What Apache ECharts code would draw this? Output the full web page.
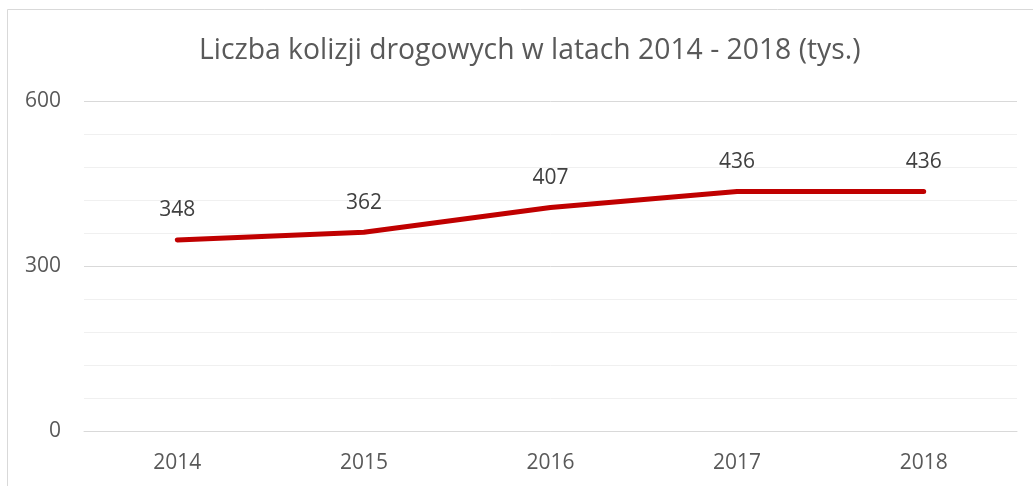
<!DOCTYPE html>
<html><head><meta charset="utf-8">
<script src="https://cdn.jsdelivr.net/npm/echarts@6/dist/echarts.min.js"></script>
<style>html,body{margin:0;padding:0;background:#fff}#c{width:1033px;height:486px}</style>
</head><body><div id="c"></div>
<script>
var titleText = 'Liczba kolizji drogowych w latach 2014 - 2018 (tys.)';
var years = ['2014', '2015', '2016', '2017', '2018'];
var collisions = [348, 362, 407, 436, 436];
var yMin = 0, yMax = 600, yStep = 60, yLabelStep = 300;

var chart = echarts.init(document.getElementById('c'), null, {renderer: 'canvas'});
var FONT = '"Open Sans", "Noto Sans", sans-serif';
chart.setOption({
  animation: false,
  backgroundColor: '#fff',
  title: {
    text: titleText, left: 194, top: 32,
    textStyle: {fontFamily: FONT, fontSize: 28.3, fontWeight: 'normal', color: '#595959'}
  },
  graphic: [{
    type: 'polyline', silent: true,
    shape: {points: [[7.5, 500], [7.5, 9.5], [1040, 9.5]]},
    style: {stroke: '#d9d9d9', lineWidth: 1, fill: null}
  }],
  grid: {left: 84, right: 16, top: 101.5, bottom: 55, containLabel: false},
  xAxis: {
    type: 'category', data: years, boundaryGap: true,
    axisLine: {lineStyle: {color: '#d9d9d9', width: 1}},
    axisTick: {show: false},
    axisLabel: {fontFamily: FONT, fontSize: 21, color: '#595959', margin: 22}
  },
  yAxis: {
    type: 'value', min: yMin, max: yMax, interval: yStep,
    axisLine: {show: false}, axisTick: {show: false},
    axisLabel: {
      fontFamily: FONT, fontSize: 21, color: '#595959', margin: 23,
      formatter: function (v) { return v % yLabelStep === 0 ? String(v) : ''; }
    },
    splitLine: {lineStyle: {color: ['#d9d9d9', '#f0f0f0', '#f0f0f0', '#f0f0f0', '#f0f0f0'], width: 1}}
  },
  series: [{
    type: 'line', data: collisions, symbol: 'circle', symbolSize: 0, showSymbol: true,
    lineStyle: {color: '#c00000', width: 5, cap: 'round', join: 'round'},
    itemStyle: {color: '#c00000'},
    label: {show: true, position: 'top', distance: 19, fontFamily: FONT, fontSize: 21, color: '#404040'}
  }]
});
</script></body></html>
